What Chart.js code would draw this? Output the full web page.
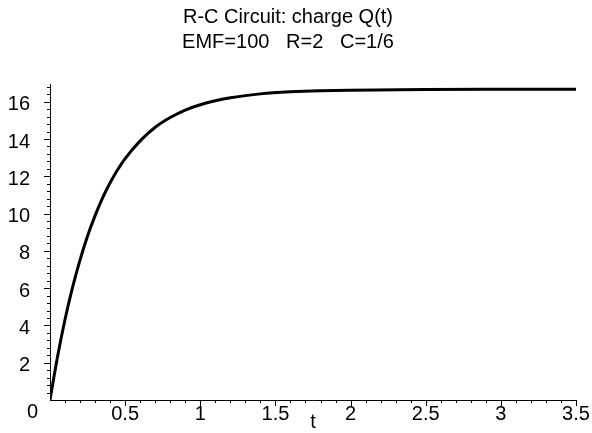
<!DOCTYPE html>
<html>
<head>
<meta charset="utf-8">
<script src="https://cdn.jsdelivr.net/npm/chart.js@4.4.0/dist/chart.umd.min.js"></script>
<style>
  html, body { margin: 0; padding: 0; background: #fff; }
  #wrap { width: 592px; height: 433px; }
</style>
</head>
<body>
<div id="wrap"><canvas id="chart"></canvas></div>
<script>
// temps t et charge Q(t)
const tValues = [0, 0.05, 0.1, 0.15, 0.2, 0.25, 0.3, 0.35, 0.4, 0.45, 0.5, 0.6, 0.7, 0.8, 0.9, 1.0, 1.2, 1.4, 1.6, 1.8, 2.0, 2.5, 3.0, 3.5];
const qValues = [0, 2.32, 4.32, 6.04, 7.52, 8.80, 9.89, 10.84, 11.65, 12.35, 12.95, 13.9, 14.63, 15.15, 15.55, 15.84, 16.21, 16.42, 16.53, 16.59, 16.62, 16.66, 16.67, 16.67];

const titleLines = ['R-C Circuit: charge Q(t)', 'EMF=100   R=2   C=1/6'];
const xLabel = 't';
const xMajor = [0.5, 1, 1.5, 2, 2.5, 3, 3.5];
const yMajor = [2, 4, 6, 8, 10, 12, 14, 16];

const FONT = '"Liberation Sans", Arial, Helvetica, sans-serif';
const SIZE = 20;

const points = tValues.map((t, i) => ({x: t, y: qValues[i]}));

// petites graduations dessinées à partir des échelles
const tickMarks = {
    id: 'tickMarks',
    afterDraw(chart) {
        const ctx = chart.ctx;
        const xs = chart.scales.x;
        const ys = chart.scales.y;
        const x0 = xs.getPixelForValue(0);
        const y0 = ys.getPixelForValue(0);
        ctx.save();
        ctx.strokeStyle = '#000';
        ctx.lineWidth = 1;
        ctx.beginPath();
        for (let k = 1; k <= 35; k++) {
            const px = Math.round(xs.getPixelForValue(k / 10)) + 0.5;
            const len = (k % 5 === 0) ? 6 : 3;
            ctx.moveTo(px, y0);
            ctx.lineTo(px, y0 + len);
        }
        for (let k = 1; k <= 42; k++) {
            const py = Math.round(ys.getPixelForValue(k * 0.4)) + 0.5;
            const len = (k % 5 === 0) ? 6 : 3;
            ctx.moveTo(x0, py);
            ctx.lineTo(x0 - len, py);
        }
        ctx.stroke();
        // le zéro commun à l'origine
        ctx.fillStyle = '#000';
        ctx.font = SIZE + 'px ' + FONT;
        ctx.textAlign = 'right';
        ctx.textBaseline = 'middle';
        ctx.fillText('0', x0 - 12, y0 + 12);
        ctx.restore();
    }
};

new Chart(document.getElementById('chart'), {
    type: 'line',
    data: {
        datasets: [{
            data: points,
            borderColor: '#000',
            borderWidth: 3,
            pointRadius: 0,
            fill: false,
            cubicInterpolationMode: 'monotone'
        }]
    },
    options: {
        responsive: true,
        maintainAspectRatio: false,
        animation: false,
        layout: { padding: { left: 0, right: 16, top: 0, bottom: 0 } },
        plugins: {
            legend: { display: false },
            tooltip: { enabled: false },
            title: {
                display: true,
                text: titleLines,
                color: '#000',
                font: { family: FONT, size: SIZE, weight: 'normal', lineHeight: 1.25 },
                padding: { top: 5, bottom: 29 }
            }
        },
        scales: {
            x: {
                type: 'linear',
                min: 0,
                max: 3.5,
                afterFit: s => { s.height = 33; },
                grid: { display: false },
                border: { display: true, color: '#000', width: 1 },
                afterBuildTicks: s => { s.ticks = xMajor.map(v => ({value: v})); },
                ticks: {
                    color: '#000',
                    font: { family: FONT, size: SIZE },
                    padding: -6,
                    maxRotation: 0,
                    autoSkip: false,
                    callback: v => String(v)
                },
                title: {
                    display: true,
                    text: xLabel,
                    color: '#000',
                    font: { family: FONT, size: SIZE },
                    padding: { top: 0, bottom: -1 }
                }
            },
            y: {
                type: 'linear',
                min: 0,
                max: 16.95,
                afterFit: s => { s.width = 50; },
                grid: { display: false },
                border: { display: true, color: '#000', width: 1 },
                afterBuildTicks: s => { s.ticks = yMajor.map(v => ({value: v})); },
                ticks: {
                    color: '#000',
                    font: { family: FONT, size: SIZE },
                    padding: 12,
                    labelOffset: 3,
                    autoSkip: false
                }
            }
        }
    },
    plugins: [tickMarks]
});
</script>
</body>
</html>
